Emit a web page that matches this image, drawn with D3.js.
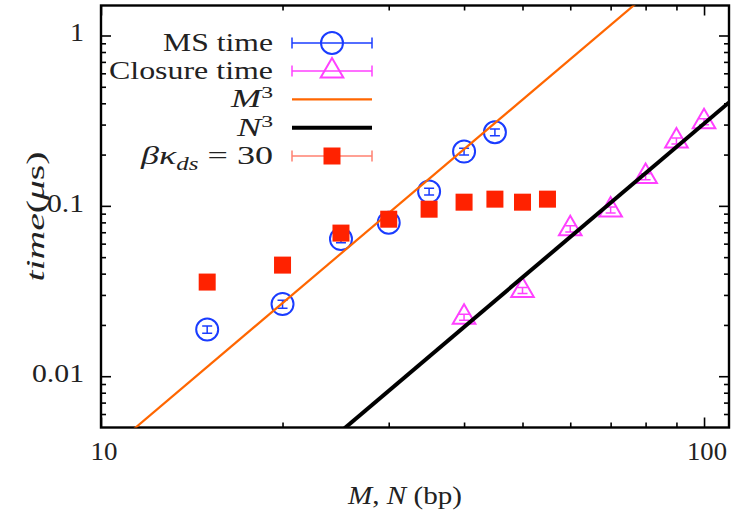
<!DOCTYPE html>
<html>
<head>
<meta charset="utf-8">
<script src="https://cdn.jsdelivr.net/npm/d3@7"></script>
<style>
  html, body { margin: 0; padding: 0; background: #fff; }
  svg { display: block; font-family: "Liberation Serif", "Times New Roman", serif; }
</style>
</head>
<body>
<script>
// ---------------- data ----------------
const msN = [15, 20, 25, 30, 35, 40, 45];
const msTime = [0.0188, 0.0265, 0.0638, 0.0797, 0.1213, 0.2083, 0.2706];
const msErr = [0.0009, 0.0014, 0.003, 0.0037, 0.0055, 0.0095, 0.0123];

const closureN = [40, 50, 60, 70, 80, 90, 100];
const closureTime = [0.0222, 0.0319, 0.0733, 0.0947, 0.1485, 0.2406, 0.3122];
const closureErr = [0.0009, 0.0013, 0.003, 0.0038, 0.006, 0.0097, 0.0125];

const betaN = [15, 20, 25, 30, 35, 40, 45, 50, 55];
const betaTime = [0.0357, 0.0449, 0.0692, 0.0835, 0.0956, 0.1051, 0.1095, 0.1051, 0.1095];

const m3Coef = 3.36e-6;   // M^3 curve prefactor
const n3Coef = 3.04e-7;   // N^3 curve prefactor
const curveN = [10, 110];

const xMajorTicks = [10, 100];
const xMinorTicks = [20, 30, 40, 50, 60, 70, 80, 90];
const yMajorTicks = [0.01, 0.1, 1];
const yMinorTicks = [0.006, 0.007, 0.008, 0.009, 0.02, 0.03, 0.04, 0.05, 0.06, 0.07, 0.08, 0.09,
                     0.2, 0.3, 0.4, 0.5, 0.6, 0.7, 0.8, 0.9];
const yTickLabels = ["0.01", "0.1", "1"];
const xTickLabels = ["10", "100"];

// ---------------- layout ----------------
const W = 732, H = 516;
const L = 101, R = 729, T = 5.5, B = 427.5;
const C = {
  blue: "#1a3cff", magenta: "#ff40ff", orange: "#ff6600",
  red: "#ff2200", redBar: "#ff8070", black: "#000"
};
const FS = 26;
const TXT = "#222";
// approximate widths of the LaTeX-typeset tick labels
const yTickWidths = [52, 37, 14];
const xTickWidths = [27, 40];

const svg = d3.select("body").append("svg").attr("width", W).attr("height", H);

const x = d3.scaleLog().domain([10, 110]).range([L, R]);
const y = d3.scaleLog().domain([0.005, 1.5]).range([B, T]);

svg.append("defs").append("clipPath").attr("id", "plotclip")
  .append("rect").attr("x", L).attr("y", T).attr("width", R - L).attr("height", B - T);

function stretch(sel, w) {
  if (w) sel.attr("textLength", w).attr("lengthAdjust", "spacingAndGlyphs");
}

// ---------------- axes (ticks) ----------------
function styleAxis(g) {
  g.select(".domain").remove();
  g.selectAll(".tick line").attr("stroke", "#000").attr("stroke-width", 1.6);
  g.selectAll(".tick text").remove();
}
function addAxis(axis, tx, ty, ticks, size) {
  const g = svg.append("g").attr("transform", `translate(${tx},${ty})`)
    .call(axis.tickValues(ticks).tickSize(size).tickFormat(""));
  styleAxis(g);
}
addAxis(d3.axisBottom(x), 0, B, xMajorTicks, -10);
addAxis(d3.axisBottom(x), 0, B, xMinorTicks, -5);
addAxis(d3.axisTop(x), 0, T, xMajorTicks, -10);
addAxis(d3.axisTop(x), 0, T, xMinorTicks, -5);
addAxis(d3.axisLeft(y), L, 0, yMajorTicks, -10);
addAxis(d3.axisLeft(y), L, 0, yMinorTicks, -5);
addAxis(d3.axisRight(y), R, 0, yMajorTicks, -10);
addAxis(d3.axisRight(y), R, 0, yMinorTicks, -5);

// tick labels
svg.append("g").selectAll("text").data(xMajorTicks).join("text")
  .attr("x", d => x(d) + 3).attr("y", B + 32).attr("text-anchor", "middle")
  .attr("fill", TXT).style("font-size", FS + "px")
  .attr("textLength", (d, i) => xTickWidths[i]).attr("lengthAdjust", "spacingAndGlyphs")
  .text((d, i) => xTickLabels[i]);
svg.append("g").selectAll("text").data(yMajorTicks).join("text")
  .attr("x", L - 17).attr("y", d => y(d) + 6).attr("text-anchor", "end")
  .attr("fill", TXT).style("font-size", FS + "px")
  .attr("textLength", (d, i) => yTickWidths[i]).attr("lengthAdjust", "spacingAndGlyphs")
  .text((d, i) => yTickLabels[i]);

// frame
svg.append("rect").attr("x", L).attr("y", T).attr("width", R - L).attr("height", B - T)
  .attr("fill", "none").attr("stroke", "#000").attr("stroke-width", 2.4);

// axis titles
const xt = svg.append("text").attr("x", 405).attr("y", 504).attr("text-anchor", "middle")
  .attr("fill", TXT).style("font-size", FS + "px");
xt.append("tspan").attr("font-style", "italic").text("M");
xt.append("tspan").text(", ");
xt.append("tspan").attr("font-style", "italic").text("N");
xt.append("tspan").text("  (bp)");
stretch(xt, 114);

const yt = svg.append("text").attr("transform", `translate(44,${(T + B) / 2}) rotate(-90)`)
  .attr("text-anchor", "middle").attr("fill", TXT).style("font-size", FS + "px");
yt.append("tspan").attr("font-style", "italic").text("time");
yt.append("tspan").text("(");
yt.append("tspan").attr("font-style", "italic").text("μ");
yt.append("tspan").text("s)");
stretch(yt, 130);

// ---------------- marks ----------------
const plot = svg.append("g").attr("clip-path", "url(#plotclip)");

function errBars(g, xs, ys, es, color) {
  const cap = 5;
  xs.forEach((n, i) => {
    const cx = x(n), y1 = y(ys[i] - es[i]), y2 = y(ys[i] + es[i]);
    g.append("line").attr("x1", cx).attr("x2", cx).attr("y1", y1).attr("y2", y2)
      .attr("stroke", color).attr("stroke-width", 1.5);
    [y1, y2].forEach(yy => g.append("line").attr("x1", cx - cap).attr("x2", cx + cap)
      .attr("y1", yy).attr("y2", yy).attr("stroke", color).attr("stroke-width", 1.5));
  });
}
const triPath = "M0,-13L11.3,6.5L-11.3,6.5Z";

// MS time
const gms = plot.append("g");
errBars(gms, msN, msTime, msErr, C.blue);
gms.selectAll("circle").data(msN).join("circle")
  .attr("cx", d => x(d)).attr("cy", (d, i) => y(msTime[i])).attr("r", 11)
  .attr("fill", "none").attr("stroke", C.blue).attr("stroke-width", 2);

// Closure time
const gcl = plot.append("g");
errBars(gcl, closureN, closureTime, closureErr, C.magenta);
gcl.selectAll("path").data(closureN).join("path")
  .attr("transform", (d, i) => `translate(${x(d)},${y(closureTime[i])})`)
  .attr("d", triPath).attr("fill", "none").attr("stroke", C.magenta).attr("stroke-width", 2);

// M^3 and N^3
const line = d3.line().x(d => x(d[0])).y(d => y(d[1]));
plot.append("path").datum(curveN.map(n => [n, m3Coef * n * n * n]))
  .attr("d", line).attr("fill", "none").attr("stroke", C.orange).attr("stroke-width", 2.2);
plot.append("path").datum(curveN.map(n => [n, n3Coef * n * n * n]))
  .attr("d", line).attr("fill", "none").attr("stroke", C.black).attr("stroke-width", 4);

// beta kappa = 30
plot.append("g").selectAll("rect").data(betaN).join("rect")
  .attr("x", d => x(d) - 8.5).attr("y", (d, i) => y(betaTime[i]) - 8.5)
  .attr("width", 17).attr("height", 17).attr("fill", C.red);

// ---------------- legend ----------------
const legY = [43, 71, 99.3, 127.7, 156];
const legTextX = 273, legX1 = 292, legX2 = 372, legMX = 332;
const lg = svg.append("g");

function legText(i) {
  return lg.append("text").attr("x", legTextX).attr("y", legY[i] + 8)
    .attr("text-anchor", "end").attr("fill", TXT).style("font-size", FS + "px");
}
function legBar(i, color) {
  const yy = legY[i];
  lg.append("line").attr("x1", legX1).attr("x2", legX2).attr("y1", yy).attr("y2", yy)
    .attr("stroke", color).attr("stroke-width", 1.5);
  [legX1, legX2].forEach(xx => lg.append("line").attr("x1", xx).attr("x2", xx)
    .attr("y1", yy - 5.5).attr("y2", yy + 5.5).attr("stroke", color).attr("stroke-width", 1.5));
}
// 0 MS time
stretch(legText(0).text("MS time"), 110);
legBar(0, C.blue);
lg.append("circle").attr("cx", legMX).attr("cy", legY[0]).attr("r", 11)
  .attr("fill", "none").attr("stroke", C.blue).attr("stroke-width", 2);
// 1 Closure time
stretch(legText(1).text("Closure time"), 164);
legBar(1, C.magenta);
lg.append("path").attr("transform", `translate(${legMX},${legY[1]})`).attr("d", triPath)
  .attr("fill", "none").attr("stroke", C.magenta).attr("stroke-width", 2);
// 2 M^3
const t2 = legText(2);
t2.append("tspan").attr("font-style", "italic").text("M");
t2.append("tspan").attr("dy", -9).style("font-size", "17px").text("3");
stretch(t2, 42);
lg.append("line").attr("x1", legX1).attr("x2", legX2).attr("y1", legY[2]).attr("y2", legY[2])
  .attr("stroke", C.orange).attr("stroke-width", 2.2);
// 3 N^3
const t3 = legText(3);
t3.append("tspan").attr("font-style", "italic").text("N");
t3.append("tspan").attr("dy", -9).style("font-size", "17px").text("3");
stretch(t3, 36);
lg.append("line").attr("x1", legX1).attr("x2", legX2).attr("y1", legY[3]).attr("y2", legY[3])
  .attr("stroke", C.black).attr("stroke-width", 4);
// 4 beta kappa_ds = 30
const t4 = legText(4);
t4.append("tspan").attr("font-style", "italic").text("βκ");
t4.append("tspan").attr("font-style", "italic").attr("dy", 6).style("font-size", "18px").text("ds");
t4.append("tspan").attr("dy", -6).text("  =  30");
stretch(t4, 132);
legBar(4, C.redBar);
lg.append("rect").attr("x", legMX - 8.5).attr("y", legY[4] - 8.5).attr("width", 17).attr("height", 17)
  .attr("fill", C.red);
</script>
</body>
</html>
